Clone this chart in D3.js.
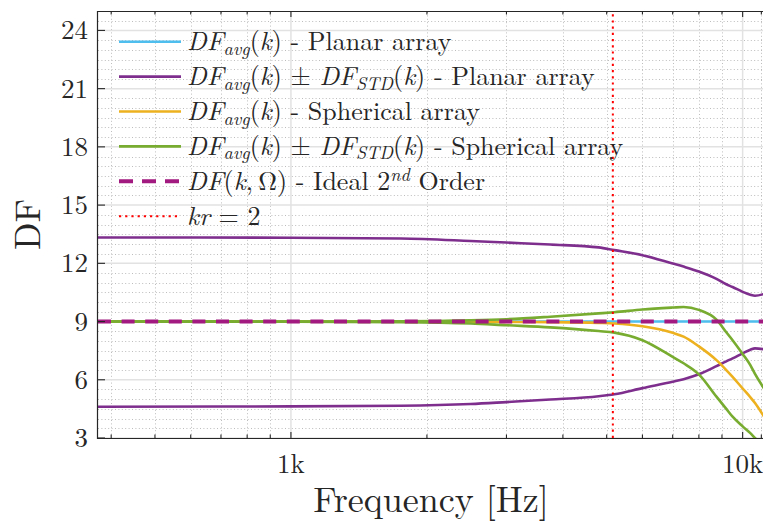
<!DOCTYPE html>
<html>
<head>
<meta charset="utf-8">
<script src="https://cdn.jsdelivr.net/npm/d3@7"></script>
<style>
  html, body { margin: 0; padding: 0; background: #fff; }
  svg { display: block; }
  text { font-family: "Latin Modern Roman", "Liberation Serif", serif; fill: #262626; }
</style>
</head>
<body>
<svg id="chart" width="763" height="522"></svg>
<script>
// Directivity factor vs. frequency, planar and spherical arrays
const freq = [374, 1000, 1750, 2500, 3000, 3750, 4800, 5200, 6000, 7000, 7400, 8000, 8750, 9200, 9500, 10000, 10400, 10650, 11150];

const planarAvg   = [9, 9, 9, 9, 9, 9, 9, 9, 9, 9, 9, 9, 9, 9, 9, 9, 9, 9, 9];
const planarUpper = [13.33, 13.32, 13.28, 13.15, 13.07, 12.97, 12.82, 12.68, 12.42, 11.99, 11.83, 11.58, 11.2, 10.92, 10.78, 10.53, 10.38, 10.33, 10.42];
const planarLower = [4.61, 4.63, 4.66, 4.75, 4.85, 4.98, 5.15, 5.25, 5.57, 5.9, 6.03, 6.28, 6.7, 6.95, 7.1, 7.36, 7.55, 7.62, 7.57];
const sphAvg      = [9, 9, 9, 8.99, 8.98, 8.97, 8.93, 8.9, 8.76, 8.42, 8.22, 7.72, 7.01, 6.5, 6.15, 5.55, 5.1, 4.8, 4.1];
const sphUpper    = [9, 9, 9.01, 9.06, 9.12, 9.25, 9.42, 9.48, 9.62, 9.72, 9.75, 9.6, 9.1, 8.45, 8.04, 7.33, 6.75, 6.3, 5.55];
const sphLower    = [9, 8.99, 8.97, 8.9, 8.81, 8.7, 8.51, 8.43, 8.04, 7.18, 6.85, 6.28, 5.13, 4.5, 4.1, 3.6, 3.25, 3.0, 2.5];
const idealDF     = [9, 9, 9, 9, 9, 9, 9, 9, 9, 9, 9, 9, 9, 9, 9, 9, 9, 9, 9];
const kr2Freq = 5160;

const yTicks = [3, 6, 9, 12, 15, 18, 21, 24];
const xMajor = [1000, 10000];
const xMajorLabels = ["1k", "10k"];
const xMinor = [400, 500, 600, 700, 800, 900, 2000, 3000, 4000, 5000, 6000, 7000, 8000, 9000, 11000];

// Legend entries: [text, style] pieces (i = math italic, r = roman, sub/sup = scripts)
const legendLabels = [
  [["DF","i"],["avg","sub"],["(","r"],["k","i"],[")","r"],[" - Planar array","r"]],
  [["DF","i"],["avg","sub"],["(","r"],["k","i"],[")","r"],[" \u00B1 ","r"],["DF","i"],["STD","sub"],["(","r"],["k","i"],[")","r"],[" - Planar array","r"]],
  [["DF","i"],["avg","sub"],["(","r"],["k","i"],[")","r"],[" - Spherical array","r"]],
  [["DF","i"],["avg","sub"],["(","r"],["k","i"],[")","r"],[" \u00B1 ","r"],["DF","i"],["STD","sub"],["(","r"],["k","i"],[")","r"],[" - Spherical array","r"]],
  [["DF","i"],["(","r"],["k","i"],[",\u2009\u03A9)","r"],[" - Ideal ","r"],["2","r"],["nd","sup"],[" Order","r"]],
  [["kr","i"],[" = 2","r"]]
];

const colors = {
  planarAvg: "#4DBEEE",
  planarStd: "#7E2F8E",
  sphAvg: "#EDB120",
  sphStd: "#77AC30",
  ideal: "#A2197F",
  kr: "#FF0000"
};

const svg = d3.select("#chart");
const W = 763, H = 522;
const margin = { left: 98, top: 11 };
const plotW = 666, plotH = 427;

const x = d3.scaleLog().domain([374, 11150]).range([margin.left, margin.left + plotW]);
const y = d3.scaleLinear().domain([3, 25]).range([margin.top + plotH, margin.top]);

svg.append("rect").attr("width", W).attr("height", H).attr("fill", "#fff");

const x0 = margin.left, x1 = margin.left + plotW, y0 = margin.top + plotH, y1 = margin.top;

// Grid
const grid = svg.append("g");
const yMinor = d3.range(3, 25.01, 0.5).filter(v => v % 3 !== 0);
grid.selectAll(".ymin").data(yMinor).join("line")
  .attr("x1", x0).attr("x2", x1)
  .attr("y1", d => Math.round(y(d)) + 0.5).attr("y2", d => Math.round(y(d)) + 0.5)
  .attr("stroke", "#bdbdbd").attr("stroke-width", 1).attr("stroke-dasharray", "1,2.4");
grid.selectAll(".xmin").data(xMinor).join("line")
  .attr("x1", d => Math.round(x(d)) + 0.5).attr("x2", d => Math.round(x(d)) + 0.5)
  .attr("y1", y0).attr("y2", y1)
  .attr("stroke", "#bdbdbd").attr("stroke-width", 1).attr("stroke-dasharray", "1,2.4");
grid.selectAll(".ymaj").data(yTicks).join("line")
  .attr("x1", x0).attr("x2", x1)
  .attr("y1", d => y(d)).attr("y2", d => y(d))
  .attr("stroke", "#e2e2e2").attr("stroke-width", 1.5);
grid.selectAll(".xmaj").data(xMajor).join("line")
  .attr("x1", d => x(d)).attr("x2", d => x(d))
  .attr("y1", y0).attr("y2", y1)
  .attr("stroke", "#e2e2e2").attr("stroke-width", 1.5);

// Data lines
svg.append("defs").append("clipPath").attr("id", "plotclip")
  .append("rect").attr("x", x0).attr("y", y1).attr("width", plotW).attr("height", plotH);

const lineGen = d3.line().x(d => x(d[0])).y(d => y(d[1])).curve(d3.curveMonotoneX);
const pairs = vals => freq.map((f, i) => [f, vals[i]]);
const dataG = svg.append("g").attr("clip-path", "url(#plotclip)");

const series = [
  { v: planarAvg, c: colors.planarAvg, w: 2.6 },
  { v: planarUpper, c: colors.planarStd, w: 2.6 },
  { v: planarLower, c: colors.planarStd, w: 2.6 },
  { v: sphAvg, c: colors.sphAvg, w: 2.6 },
  { v: sphUpper, c: colors.sphStd, w: 2.6 },
  { v: sphLower, c: colors.sphStd, w: 2.6 },
  { v: idealDF, c: colors.ideal, w: 4, dash: "13,10.6" }
];
series.forEach(s => {
  dataG.append("path").datum(pairs(s.v))
    .attr("d", lineGen).attr("fill", "none")
    .attr("stroke", s.c).attr("stroke-width", s.w)
    .attr("stroke-dasharray", s.dash || null);
});

dataG.append("line")
  .attr("x1", x(kr2Freq)).attr("x2", x(kr2Freq))
  .attr("y1", y0).attr("y2", y1)
  .attr("stroke", colors.kr).attr("stroke-width", 2).attr("stroke-dasharray", "2.2,4");

// Axes (ticks pointing inward, box on top/left/bottom)
const axisColor = "#262626";
const ax = svg.append("g");
ax.append("line").attr("x1", x0).attr("x2", W).attr("y1", y0 + 0.5).attr("y2", y0 + 0.5).attr("stroke", axisColor).attr("stroke-width", 1.2);
ax.append("line").attr("x1", x0).attr("x2", W).attr("y1", y1 + 0.5).attr("y2", y1 + 0.5).attr("stroke", axisColor).attr("stroke-width", 1.2);
ax.append("line").attr("x1", x0 - 0.5).attr("x2", x0 - 0.5).attr("y1", y1).attr("y2", y0 + 1).attr("stroke", axisColor).attr("stroke-width", 1.2);

ax.selectAll(".yt").data(yTicks).join("line")
  .attr("x1", x0).attr("x2", x0 + 7).attr("y1", d => y(d)).attr("y2", d => y(d))
  .attr("stroke", axisColor).attr("stroke-width", 1.1);
[ [y0, -1], [y1, 1] ].forEach(([yy, dir]) => {
  ax.selectAll(null).data(xMajor).join("line")
    .attr("x1", d => x(d)).attr("x2", d => x(d))
    .attr("y1", yy).attr("y2", yy + dir * 6)
    .attr("stroke", axisColor).attr("stroke-width", 1.1);
  ax.selectAll(null).data(xMinor).join("line")
    .attr("x1", d => x(d)).attr("x2", d => x(d))
    .attr("y1", yy).attr("y2", yy + dir * 3.5)
    .attr("stroke", axisColor).attr("stroke-width", 1.1);
});

// Tick labels
svg.selectAll(".ytl").data(yTicks).join("text")
  .attr("x", 88).attr("y", d => y(d) + 9)
  .attr("text-anchor", "end").attr("font-size", 27)
  .text(d => d);
svg.selectAll(".xtl").data(xMajor).join("text")
  .attr("x", d => x(d)).attr("y", 473)
  .attr("text-anchor", "middle").attr("font-size", 27)
  .text((d, i) => xMajorLabels[i]);

// Axis titles
svg.append("text")
  .attr("x", (x0 + x1) / 2).attr("y", 512)
  .attr("text-anchor", "middle").attr("font-size", 36)
  .text("Frequency [Hz]");
svg.append("text")
  .attr("transform", `translate(40,${(y0 + y1) / 2}) rotate(-90)`)
  .attr("text-anchor", "middle").attr("font-size", 36)
  .text("DF");

// Legend (no box; grid shows through)
const legend = svg.append("g");
const legendStyles = [
  { c: colors.planarAvg, w: 2.6 },
  { c: colors.planarStd, w: 2.6 },
  { c: colors.sphAvg, w: 2.6 },
  { c: colors.sphStd, w: 2.6 },
  { c: colors.ideal, w: 4, dash: "14,9" },
  { c: colors.kr, w: 2, dash: "2.2,4" }
];
const rowY0 = 41.7, rowStep = 34.9, fs = 26;
legendLabels.forEach((parts, i) => {
  const ry = rowY0 + i * rowStep;
  const st = legendStyles[i];
  legend.append("line")
    .attr("x1", 119).attr("x2", 181).attr("y1", ry).attr("y2", ry)
    .attr("stroke", st.c).attr("stroke-width", st.w)
    .attr("stroke-dasharray", st.dash || null);
  const t = legend.append("text")
    .attr("x", 187).attr("y", ry + 8.5)
    .attr("font-size", fs);
  let shift = 0;
  parts.forEach(([txt, kind]) => {
    const sp = t.append("tspan").text(txt).attr("xml:space", "preserve");
    let target = 0;
    if (kind === "i") sp.attr("font-style", "italic");
    if (kind === "sub") { sp.attr("font-style", "italic").attr("font-size", fs * 0.7); target = 4.5; }
    if (kind === "sup") { sp.attr("font-style", "italic").attr("font-size", fs * 0.7); target = -9; }
    if (target !== shift) { sp.attr("dy", target - shift); shift = target; }
  });
});
</script>
</body>
</html>
